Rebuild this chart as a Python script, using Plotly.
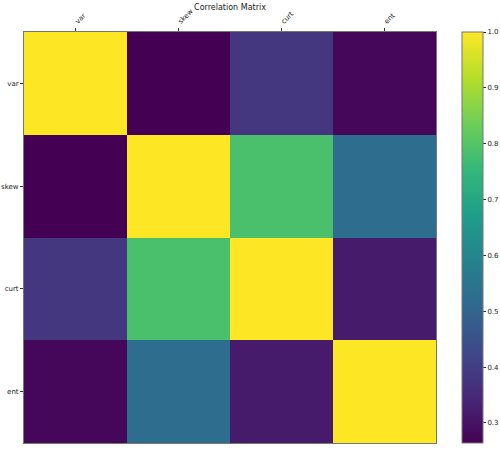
import plotly.graph_objects as go

labels = ["var", "skew", "curt", "ent"]
corr = [
    [1.000000, 0.264026, 0.380850, 0.276817],
    [0.264026, 1.000000, 0.786895, 0.526321],
    [0.380850, 0.786895, 1.000000, 0.318841],
    [0.276817, 0.526321, 0.318841, 1.000000],
]
cbar_ticks = [0.3, 0.4, 0.5, 0.6, 0.7, 0.8, 0.9, 1.0]

W, H = 500, 449
L, R, T, B = 24, 64, 32, 6
pw = W - L - R

fig = go.Figure(go.Heatmap(
    z=corr, x=labels, y=labels,
    colorscale="Viridis",
    xgap=0, ygap=0,
    colorbar=dict(
        x=(461.7 - L) / pw, xanchor="left", xref="paper",
        y=0.5, yanchor="middle", len=1.0, lenmode="fraction",
        xpad=0, ypad=0,
        thickness=21, outlinewidth=1, outlinecolor="#777",
        ticks="outside", ticklen=3, tickcolor="#333",
        tickvals=cbar_ticks, ticktext=[f"{v:.1f}" for v in cbar_ticks],
        tickfont=dict(size=7, color="#222"),
    ),
    hoverinfo="skip",
))

fig.update_layout(
    width=W, height=H,
    margin=dict(l=L, r=R, t=T, b=B, autoexpand=False),
    paper_bgcolor="white", plot_bgcolor="white",
    font=dict(family="DejaVu Sans", size=7, color="#222"),
    title=dict(text="Correlation Matrix", x=(L + pw / 2) / W, xanchor="center",
               y=1 - 7 / H, yanchor="middle", yref="container",
               font=dict(size=8, color="#222")),
    xaxis=dict(side="top", tickangle=-45, ticks="outside", ticklen=3,
               tickcolor="#333", showgrid=False, zeroline=False,
               showline=True, linecolor="#777", linewidth=1, mirror=True,
               tickfont=dict(size=7), automargin=False),
    yaxis=dict(autorange="reversed", ticks="outside", ticklen=3,
               tickcolor="#333", showgrid=False, zeroline=False,
               showline=True, linecolor="#777", linewidth=1, mirror=True,
               tickfont=dict(size=7), automargin=False),
)

fig.write_html(
    "out.html",
    config={"displayModeBar": False},
    post_script="document.body.style.margin='0';document.body.style.overflow='hidden';",
)
